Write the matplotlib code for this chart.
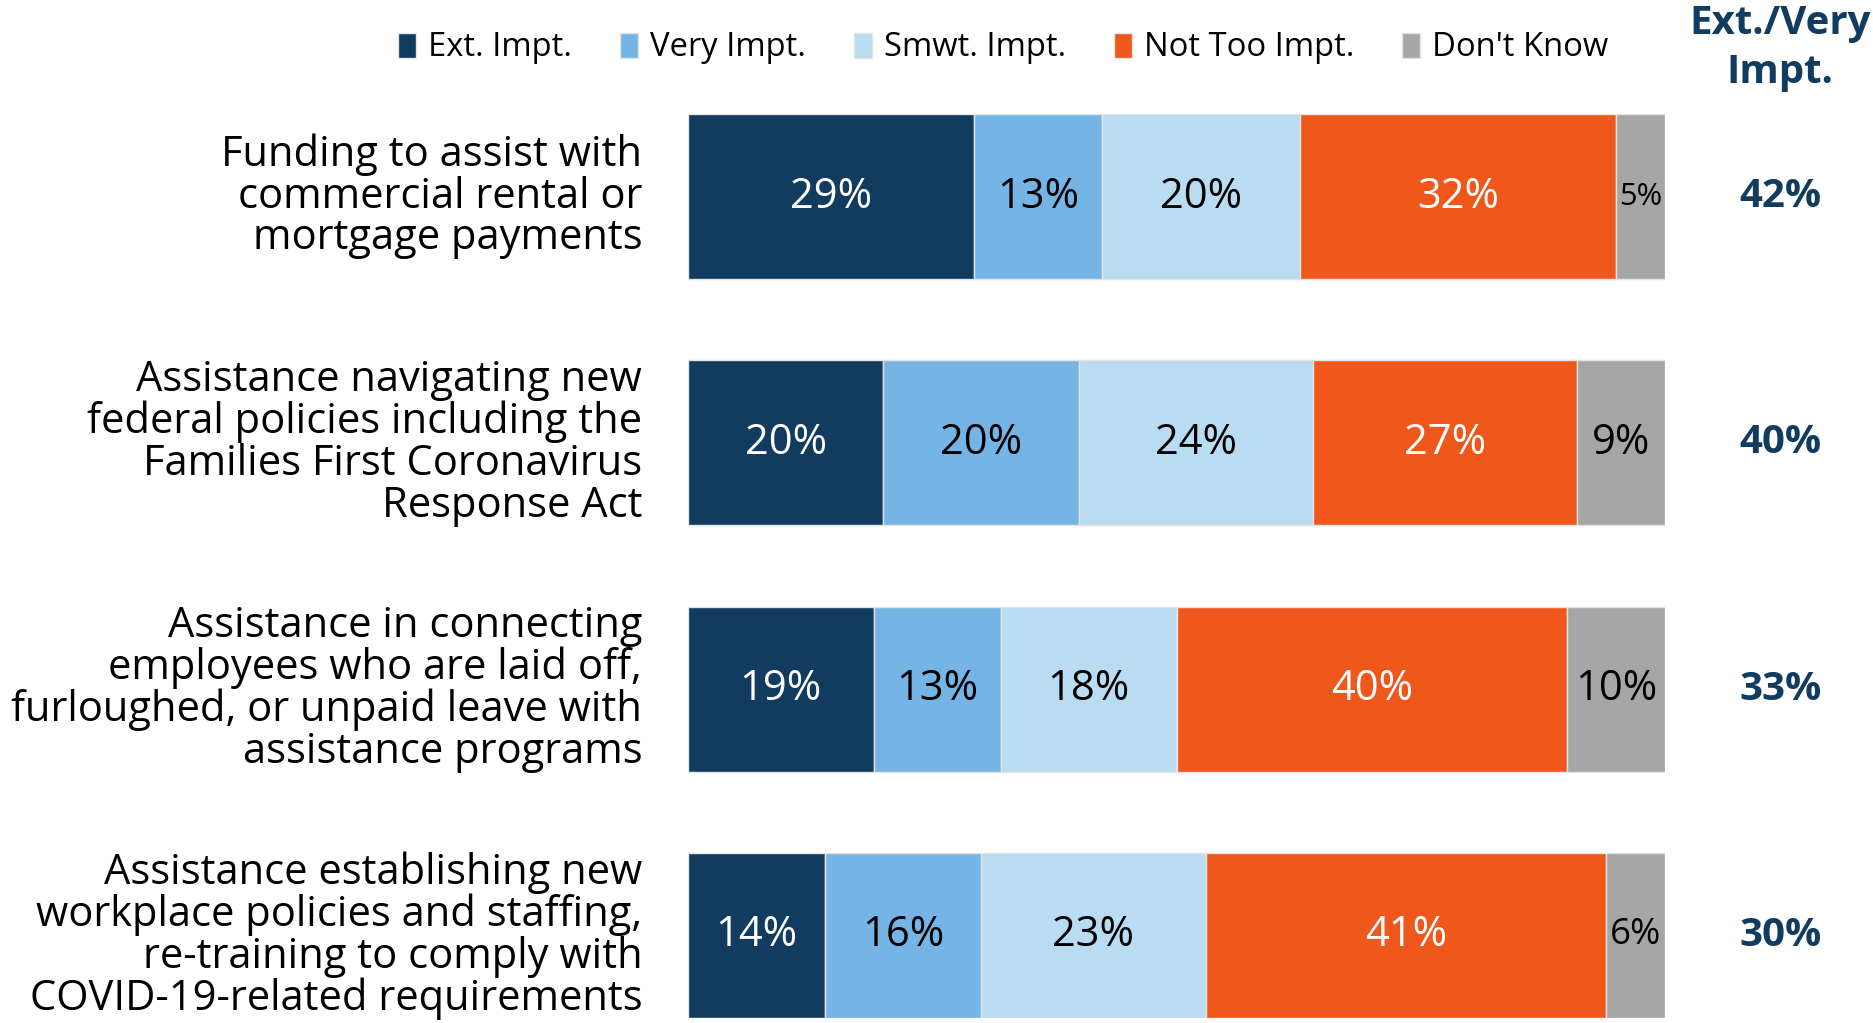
import numpy as np
import matplotlib.pyplot as plt
from matplotlib.transforms import blended_transform_factory

plt.rcParams['font.family'] = ['Open Sans', 'DejaVu Sans']

# Data
categories = [
    'Funding to assist with\ncommercial rental or\nmortgage payments',
    'Assistance navigating new\nfederal policies including the\nFamilies First Coronavirus\nResponse Act',
    'Assistance in connecting\nemployees who are laid off,\nfurloughed, or unpaid leave with\nassistance programs',
    'Assistance establishing new\nworkplace policies and staffing,\nre-training to comply with\nCOVID-19-related requirements',
]
series_names = ['Ext. Impt.', 'Very Impt.', 'Smwt. Impt.', 'Not Too Impt.', "Don't Know"]
ext_impt = [29, 20, 19, 14]
very_impt = [13, 20, 13, 16]
smwt_impt = [20, 24, 18, 23]
not_too_impt = [32, 27, 40, 41]
dont_know = [5, 9, 10, 6]
ext_very_total = [42, 40, 33, 30]

colors = ['#113B5F', '#75B5E6', '#BADCF3', '#F0581B', '#A6A6A6']
text_colors = ['white', 'black', 'black', 'white', 'black']
navy = '#113B5F'

values = np.array([ext_impt, very_impt, smwt_impt, not_too_impt, dont_know], dtype=float)
shares = values / values.sum(axis=0) * 100  # every bar spans the full width

fig = plt.figure(figsize=(18.74, 10.23), dpi=100)
ax = fig.add_axes([688 / 1874, 5 / 1023, 977 / 1874, 904 / 1023])

y = np.arange(len(categories))
h = 0.67
left = np.zeros(len(categories))
for i, name in enumerate(series_names):
    ax.barh(y, shares[i], left=left, height=h, color=colors[i], label=name,
            edgecolor='#E4E4E4', linewidth=1)
    for j in range(len(categories)):
        fs = min(30, shares[i, j] * 4.4)  # small segments get a smaller label
        ax.text(left[j] + shares[i, j] / 2, y[j], f'{int(values[i, j])}%',
                ha='center', va='center', fontsize=fs, color=text_colors[i])
    left += shares[i]

ax.set_xlim(0, 100)
ax.set_ylim(len(categories) - 1 + h / 2, -h / 2)
ax.set_yticks(y)
ax.set_yticklabels(categories, fontsize=30, linespacing=0.99, va='center')
ax.tick_params(axis='y', length=0, pad=33)
ax.set_xticks([])
for s in ax.spines.values():
    s.set_visible(False)

# Ext./Very column on the right
trans = blended_transform_factory(fig.transFigure, ax.transData)
for j, v in enumerate(ext_very_total):
    ax.text(0.950, y[j], f'{v}%', transform=trans, ha='center', va='center',
            fontsize=29, fontweight='bold', color=navy)
fig.text(0.950, 0.953, 'Ext./Very\nImpt.', ha='center', va='center',
         fontsize=29, fontweight='bold', color=navy, linespacing=1.31)

# Legend
handles, labels = ax.get_legend_handles_labels()
fig.legend(handles, labels, loc='center left', bbox_to_anchor=(398 / 1874, 1 - 48 / 1023),
           ncol=5, frameon=False, fontsize=23.6, handlelength=0.55, handleheight=0.8,
           handletextpad=0.37, columnspacing=1.46, borderpad=0, borderaxespad=0)

plt.savefig('out.png', dpi=100)
